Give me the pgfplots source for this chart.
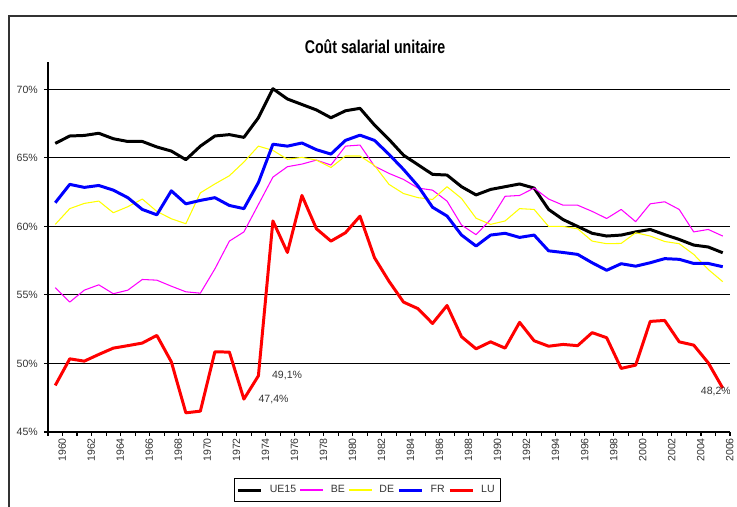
\documentclass[border=0pt]{standalone}
\usepackage{fontspec}
\setmainfont{Liberation Sans}
\usepackage{pgfplots}
\usepackage{pgfplotstable}
\pgfplotsset{compat=1.18}
\usepackage{graphicx}

\definecolor{cMag}{HTML}{FF00FF}
\definecolor{cYel}{HTML}{FFFF00}
\definecolor{cBlu}{HTML}{0000FF}
\definecolor{cRed}{HTML}{FF0000}
\definecolor{cTxt}{HTML}{333333}

% year, UE15, BE, DE, FR, LU (percent)
\pgfplotstableread{
year ue be de fr lu
1960 66.06 55.53 60.15 61.73 48.40
1961 66.60 54.48 61.30 63.07 50.34
1962 66.64 55.35 61.68 62.85 50.17
1963 66.80 55.74 61.85 62.99 50.66
1964 66.40 55.09 61.00 62.65 51.12
1965 66.20 55.35 61.44 62.10 51.30
1966 66.20 56.13 62.00 61.24 51.49
1967 65.80 56.08 61.10 60.85 52.05
1968 65.50 55.64 60.56 62.60 50.12
1969 64.87 55.23 60.20 61.65 46.40
1970 65.86 55.13 62.45 61.90 46.52
1971 66.60 56.90 63.10 62.10 50.85
1972 66.70 58.93 63.70 61.53 50.83
1973 66.50 59.60 64.70 61.30 47.40
1974 67.93 61.60 65.86 63.20 49.10
1975 70.05 63.60 65.55 66.00 60.40
1976 69.30 64.36 64.90 65.86 58.10
1977 68.90 64.55 65.04 66.09 62.26
1978 68.50 64.84 64.84 65.60 59.83
1979 67.93 64.48 64.30 65.28 58.93
1980 68.44 65.86 65.14 66.28 59.54
1981 68.62 65.94 65.14 66.66 60.75
1982 67.40 64.40 64.45 66.28 57.72
1983 66.35 63.87 63.07 65.26 56.00
1984 65.20 63.43 62.40 64.16 54.48
1985 64.50 62.80 62.10 62.95 54.00
1986 63.80 62.65 61.97 61.40 52.92
1987 63.75 61.85 62.90 60.76 54.23
1988 62.90 60.10 62.04 59.37 51.95
1989 62.30 59.40 60.60 58.57 51.07
1990 62.70 60.50 60.15 59.37 51.58
1991 62.90 62.20 60.40 59.50 51.12
1992 63.10 62.26 61.30 59.20 53.00
1993 62.80 62.80 61.24 59.37 51.66
1994 61.24 62.00 60.00 58.22 51.26
1995 60.50 61.55 60.00 58.10 51.39
1996 60.00 61.55 59.83 57.96 51.30
1997 59.50 61.10 58.93 57.35 52.25
1998 59.30 60.58 58.74 56.80 51.88
1999 59.37 61.24 58.76 57.28 49.64
2000 59.60 60.35 59.54 57.10 49.88
2001 59.78 61.65 59.30 57.35 53.07
2002 59.40 61.80 58.90 57.65 53.14
2003 59.05 61.24 58.74 57.60 51.58
2004 58.64 59.60 57.96 57.30 51.34
2005 58.50 59.78 56.86 57.30 50.05
2006 58.08 59.30 55.97 57.06 48.20
}\data

\begin{document}
\begin{tikzpicture}
% page = 737 x 507 px, 1 px = 0.02cm
\path[use as bounding box] (0,0) rectangle (14.74cm,-10.14cm);
\begin{scope}[x=0.02cm,y=-0.02cm]
  \draw[black!80, line width=1.2pt] (8.7,520) -- (8.7,15.7) -- (750,15.7);
  \node[font=\bfseries\fontsize{10.5}{12}\selectfont] at (375,47)
    {\scalebox{0.77}[1]{Coût salarial unitaire}};
\end{scope}
\begin{axis}[
  at={(0.96cm,-8.64cm)}, anchor=south west,
  scale only axis, width=13.64cm, height=7.4cm,
  xmin=1959.5, xmax=2006.5, ymin=45, ymax=72,
  axis x line*=bottom, axis y line*=left,
  axis line style={black, line width=0.6pt, -},
  /pgf/number format/assume math mode=true,
  xtick={1960,1962,...,2006},
  minor xtick={1959.5,1960.5,...,2006.5},
  major tick length=0pt,
  minor tick length=4*0.02cm,
  ytick={45,50,...,70},
  extra y ticks={45,50,...,70}, extra y tick labels={},
  extra y tick style={major tick length=4*0.02cm, tick align=outside},
  tick align=outside,
  tick style={black, line width=0.6pt},
  ymajorgrids, grid style={black, line width=0.6pt},
  x tick label style={rotate=90, anchor=east, font=\fontsize{6}{7}\selectfont, text=cTxt, yshift=-0.14cm},
  y tick label style={font=\fontsize{6}{7}\selectfont, text=cTxt, xshift=-0.08cm},
  xticklabel={\pgfmathprintnumber[1000 sep=]{\tick}},
  yticklabel={\pgfmathprintnumber{\tick}\%},
  legend columns=5,
  legend style={at={(0.4685,-0.1568)}, anchor=center, draw=black, line width=0.6pt,
    font=\fontsize{6}{7}\selectfont, text=cTxt, inner sep=1.5pt,
    /tikz/every even column/.append style={column sep=0pt},
    /tikz/every odd column/.append style={column sep=2pt}},
  legend image code/.code={\draw[#1] (0cm,0cm) -- (0.46cm,0cm);},
  line join=round,
]
\addplot[black, line width=1.7pt] table[x=year, y=ue] {\data};
\addlegendentry{UE15}
\addplot[cMag, line width=0.6pt] table[x=year, y=be] {\data};
\addlegendentry{BE}
\addplot[cYel, line width=0.6pt] table[x=year, y=de] {\data};
\addlegendentry{DE}
\addplot[cBlu, line width=1.7pt] table[x=year, y=fr] {\data};
\addlegendentry{FR}
\addplot[cRed, line width=1.7pt] table[x=year, y=lu] {\data};
\addlegendentry{LU}
\node[anchor=west, font=\fontsize{6}{7}\selectfont, text=cTxt, xshift=0.15cm] at (axis cs:1974,49.1) {49,1\%};
\node[anchor=west, font=\fontsize{6}{7}\selectfont, text=cTxt, xshift=0.17cm] at (axis cs:1973,47.4) {47,4\%};
\node[anchor=west, font=\fontsize{6}{7}\selectfont, text=cTxt, xshift=-0.56cm, yshift=-0.07cm] at (axis cs:2006,48.2) {48,2\%};
\end{axis}
\end{tikzpicture}
\end{document}
